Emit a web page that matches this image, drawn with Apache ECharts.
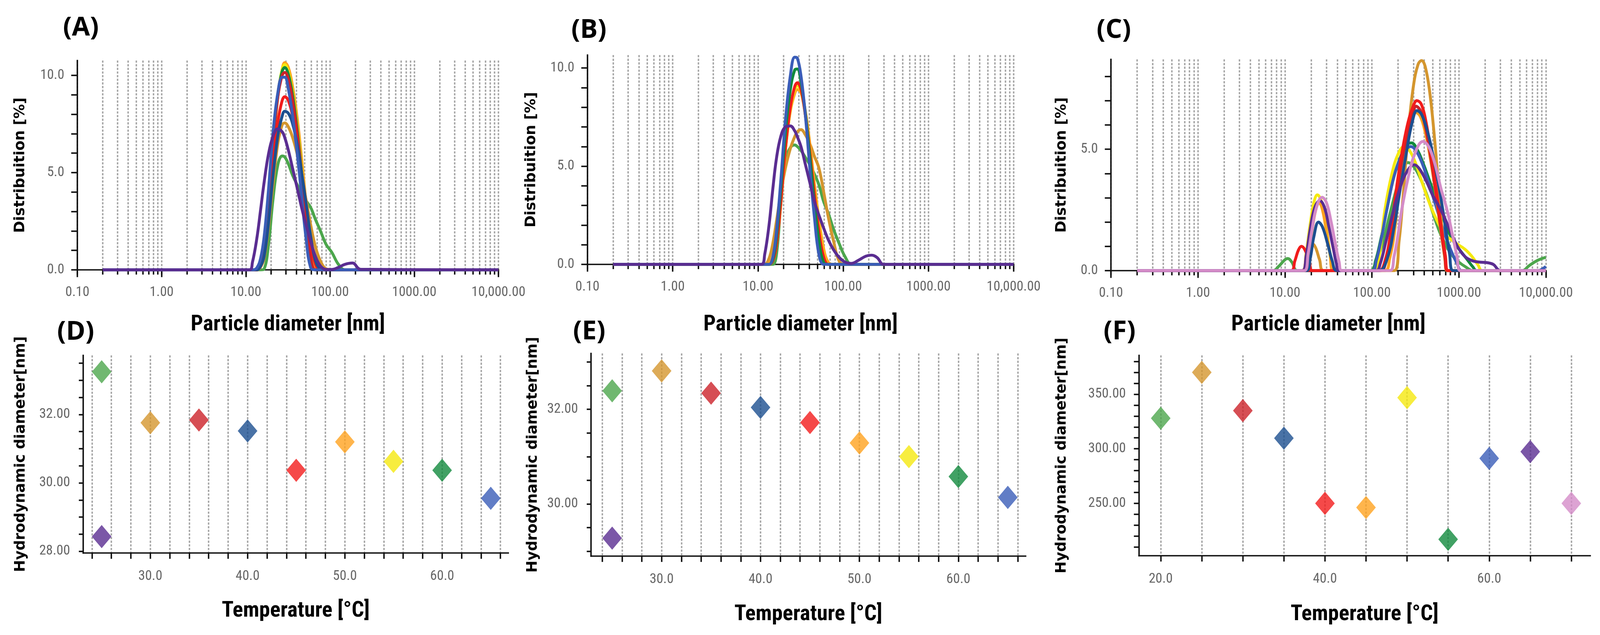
<!DOCTYPE html>
<html>
<head>
<meta charset="utf-8">
<title>DLS size distributions and hydrodynamic diameter</title>
<script src="https://cdn.jsdelivr.net/npm/echarts@6.0.0/dist/echarts.min.js"></script>
<style>
  html, body { margin: 0; padding: 0; background: #ffffff; overflow: hidden; }
  #chart { width: 100vw; height: 100vh; }
</style>
</head>
<body>
<div id="chart"></div>
<script>
// colours, one per temperature run
const GREEN = '#4ca64c', PURPLE = '#5a2d91', GOLD = '#d4962e', DKRED = '#cc2229', NAVY = '#1c4f90';
const RED = '#f21c1c', ORANGE = '#ffa21f', YELLOW = '#f5e90f', DKGREEN = '#118a3d', BLUE = '#3a5db8', PINK = '#d48cc8';

// ---- (A) size distributions [nm] / [%]
const sizesA = [0.2, 11, 12, 13.5, 15, 16.5, 18.5, 21, 24, 27, 29, 32, 36, 41, 46, 52, 59, 67, 77, 90, 105, 125, 150, 185, 230, 10000];
const aOrange  = [0, 0, 0, 0, 0.2, 0.8, 2.8, 6.0, 8.9, 10.3, 10.65, 10.4, 9.4, 7.7, 5.7, 3.4, 1.0, 0.1, 0, 0, 0, 0, 0, 0, 0, 0];
const aYellow  = [0, 0, 0, 0, 0.25, 0.9, 3.0, 6.3, 9.0, 10.3, 10.55, 10.2, 9.1, 7.3, 5.2, 2.9, 0.6, 0, 0, 0, 0, 0, 0, 0, 0, 0];
const aDkGreen = [0, 0, 0, 0, 0.3, 1.0, 3.2, 6.5, 9.0, 10.2, 10.4, 10.05, 8.95, 7.1, 5.0, 2.7, 0.5, 0, 0, 0, 0, 0, 0, 0, 0, 0];
const aDkRed   = [0, 0, 0, 0, 0.3, 1.05, 3.3, 6.5, 8.9, 10.0, 10.15, 9.8, 8.7, 6.9, 4.9, 2.7, 0.6, 0, 0, 0, 0, 0, 0, 0, 0, 0];
const aBlue    = [0, 0, 0, 0.1, 0.6, 1.7, 4.0, 7.0, 9.1, 9.9, 9.9, 9.3, 7.9, 5.9, 3.8, 1.6, 0.1, 0, 0, 0, 0, 0, 0, 0, 0, 0];
const aRed     = [0, 0, 0, 0, 0.2, 0.75, 2.6, 5.4, 7.6, 8.7, 8.9, 8.7, 7.9, 6.6, 5.0, 3.2, 1.4, 0.3, 0, 0, 0, 0, 0, 0, 0, 0];
const aNavy    = [0, 0, 0, 0, 0.2, 0.7, 2.3, 4.8, 6.9, 7.9, 8.15, 8.05, 7.5, 6.4, 5.0, 3.4, 1.7, 0.5, 0.05, 0, 0, 0, 0, 0, 0, 0];
const aGold    = [0, 0, 0, 0, 0.15, 0.6, 2.1, 4.4, 6.5, 7.45, 7.55, 7.35, 6.8, 5.9, 4.8, 3.6, 2.3, 1.2, 0.45, 0.05, 0, 0, 0, 0, 0, 0];
const aPurple  = [0, 0, 0.4, 1.6, 3.1, 4.5, 5.9, 6.85, 7.25, 7.1, 6.8, 6.15, 5.2, 4.15, 3.2, 2.3, 1.45, 0.7, 0.2, 0.02, 0.02, 0.12, 0.28, 0.35, 0.03, 0];
const aGreen   = [0, 0, 0, 0, 0, 0.05, 1.2, 3.6, 5.4, 5.85, 5.8, 5.45, 4.85, 4.35, 3.9, 3.55, 3.2, 2.6, 2.0, 1.3, 0.9, 0.3, 0, 0, 0, 0];

// ---- (B)
const sizesB = [0.2, 11, 12, 13.5, 15, 16.5, 18.5, 21, 24, 27, 29, 32, 36, 41, 46, 52, 59, 67, 77, 90, 105, 125, 150, 185, 215, 250, 300, 10000];
const bBlue    = [0, 0, 0, 0, 0.4, 1.7, 4.2, 7.3, 9.6, 10.55, 10.5, 9.6, 7.6, 4.7, 2.4, 0.5, 0, 0, 0, 0, 0, 0, 0, 0, 0, 0, 0, 0];
const bDkGreen = [0, 0, 0, 0, 0.3, 1.4, 3.8, 6.7, 8.9, 9.9, 9.95, 9.3, 7.7, 5.3, 3.1, 1.2, 0.1, 0, 0, 0, 0, 0, 0, 0, 0, 0, 0, 0];
const bRed     = [0, 0, 0, 0, 0.2, 1.0, 3.1, 5.9, 8.0, 9.05, 9.25, 8.9, 7.6, 5.6, 3.6, 1.7, 0.4, 0, 0, 0, 0, 0, 0, 0, 0, 0, 0, 0];
const bYellow  = [0, 0, 0, 0, 0.2, 1.0, 3.0, 5.8, 7.9, 8.9, 9.1, 8.8, 7.6, 5.7, 3.8, 1.9, 0.5, 0, 0, 0, 0, 0, 0, 0, 0, 0, 0, 0];
const bOrange  = [0, 0, 0, 0.05, 0.4, 1.3, 3.2, 5.8, 7.8, 8.7, 8.9, 8.75, 7.8, 6.0, 4.1, 2.3, 0.8, 0.1, 0, 0, 0, 0, 0, 0, 0, 0, 0, 0];
const bGold    = [0, 0, 0, 0.3, 1.1, 2.2, 3.6, 4.9, 5.9, 6.5, 6.75, 6.86, 6.6, 6.1, 5.5, 4.9, 3.7, 2.4, 1.2, 0.15, 0, 0, 0, 0, 0, 0, 0, 0];
const bPurple  = [0, 0, 0.5, 2.0, 3.9, 5.4, 6.5, 7.0, 7.05, 6.8, 6.5, 6.0, 5.1, 4.1, 3.2, 2.5, 1.85, 1.25, 0.75, 0.35, 0.12, 0.05, 0.2, 0.42, 0.47, 0.35, 0, 0];
const bGreen   = [0, 0, 0, 0, 0, 0.5, 3.0, 5.3, 5.95, 6.08, 6.0, 5.8, 5.45, 5.05, 4.6, 4.05, 3.2, 2.6, 1.8, 1.05, 0.4, 0, 0, 0, 0, 0, 0, 0];

// ---- (C) [size nm, %] pairs, two populations
const cGreen   = [[0.2, 0], [7.3, 0], [8.5, 0.18], [10, 0.45], [10.8, 0.5], [12, 0.35], [13.9, 0], [95, 0], [110, 0.3], [130, 1.0], [160, 2.3], [200, 3.6], [235, 4.3], [260, 4.45], [300, 4.3], [350, 3.9], [420, 3.2], [500, 2.4], [600, 1.6], [720, 1.0], [850, 0.6], [1000, 0.35], [1200, 0.15], [1450, 0], [5300, 0], [6500, 0.22], [8000, 0.42], [10000, 0.55]];
const cGold    = [[0.2, 0], [15.5, 0], [17.5, 0.45], [19.5, 0.95], [20.8, 1.1], [22.5, 0.95], [25, 0.45], [28, 0], [180, 0], [205, 1.2], [230, 3.2], [260, 5.6], [300, 7.6], [340, 8.5], [373, 8.65], [410, 8.4], [460, 7.4], [520, 5.6], [580, 3.6], [640, 1.7], [700, 0.3], [740, 0], [10000, 0]];
const cDkGreen = [[0.2, 0], [98, 0], [110, 0.4], [125, 1.2], [148, 2.5], [180, 3.9], [220, 4.8], [255, 5.2], [285, 5.26], [330, 5.0], [390, 4.4], [460, 3.7], [540, 3.0], [640, 2.3], [760, 1.6], [900, 1.1], [1050, 0.8], [1250, 0.45], [1450, 0.15], [1600, 0], [10000, 0]];
const cYellow  = [[0.2, 0], [16, 0], [17.5, 0.7], [19.5, 1.9], [21.5, 2.8], [23.6, 3.12], [26, 2.9], [29, 2.1], [32, 1.0], [34.5, 0.25], [37, 0], [105, 0], [120, 0.5], [141, 2.5], [170, 4.0], [200, 4.8], [235, 5.11], [270, 4.95], [320, 4.4], [380, 3.6], [440, 2.95], [500, 2.45], [600, 1.85], [700, 1.45], [800, 1.3], [950, 1.1], [1175, 0.88], [1400, 0.6], [1650, 0.25], [1860, 0], [10000, 0]];
const cBlue    = [[0.2, 0], [100, 0], [112, 0.4], [128, 1.3], [150, 2.6], [180, 3.9], [220, 4.75], [255, 5.05], [279, 5.11], [320, 4.95], [380, 4.4], [450, 3.6], [530, 2.8], [620, 2.0], [720, 1.3], [830, 0.75], [950, 0.3], [1080, 0], [8200, 0], [9200, 0.08], [10000, 0.17]];
const cOrange  = [[0.2, 0], [17, 0], [19, 0.8], [21, 1.9], [23, 2.6], [24.7, 2.8], [27, 2.5], [30, 1.6], [33, 0.7], [36, 0], [140, 0], [160, 0.5], [185, 1.8], [203, 3.5], [230, 4.8], [270, 5.9], [320, 6.51], [360, 6.35], [410, 5.7], [470, 4.6], [540, 3.2], [610, 1.8], [690, 0.5], [730, 0], [10000, 0]];
const cDkRed   = [[0.2, 0], [125, 0], [145, 0.4], [170, 1.7], [195, 3.3], [225, 4.7], [265, 5.9], [300, 6.55], [320, 6.77], [360, 6.6], [410, 5.95], [470, 4.75], [540, 3.3], [610, 1.9], [690, 0.6], [740, 0], [10000, 0]];
const cRed     = [[0.2, 0], [11.7, 0], [13, 0.4], [14.3, 0.85], [15.5, 1.0], [17, 0.85], [19, 0.4], [20.8, 0], [120, 0], [140, 0.35], [165, 1.6], [190, 3.3], [220, 4.8], [260, 6.1], [300, 6.8], [329, 7.0], [370, 6.85], [420, 6.1], [480, 4.8], [550, 3.3], [620, 1.9], [700, 0.6], [750, 0], [10000, 0]];
const cNavy    = [[0.2, 0], [17.5, 0], [19.5, 0.5], [21.5, 1.4], [24.3, 2.0], [27, 1.8], [31, 1.1], [35, 0.4], [39.6, 0], [120, 0], [150, 0.5], [180, 1.8], [210, 3.3], [250, 4.9], [290, 6.1], [330, 6.59], [370, 6.45], [430, 5.8], [500, 4.8], [560, 3.9], [620, 3.0], [700, 1.8], [780, 0.7], [860, 0], [10000, 0]];
const cPurple  = [[0.2, 0], [15.9, 0], [17.5, 0.6], [19.5, 1.7], [22, 2.6], [25.2, 2.88], [28.5, 2.6], [32, 1.8], [36, 0.9], [39, 0.3], [42, 0], [112, 0], [125, 0.3], [145, 1.2], [175, 2.4], [210, 3.4], [250, 4.05], [307, 4.36], [350, 4.2], [420, 3.7], [500, 3.1], [600, 2.6], [700, 2.1], [850, 1.4], [1000, 0.9], [1200, 0.55], [1450, 0.4], [1750, 0.35], [2100, 0.33], [2500, 0.25], [2800, 0.05], [3000, 0], [10000, 0]];
const cPink    = [[0.2, 0], [16.7, 0], [18.5, 0.7], [20.5, 1.7], [23, 2.6], [26.7, 3.02], [30, 2.8], [34, 2.0], [38, 1.1], [42, 0.35], [45, 0], [160, 0], [180, 0.6], [200, 1.5], [220, 2.5], [260, 3.8], [310, 4.8], [386, 5.32], [450, 5.1], [530, 4.4], [620, 3.4], [731, 2.5], [840, 1.5], [950, 0.6], [1045, 0], [10000, 0]];

// ---- (D)(E)(F) hydrodynamic diameter vs temperature
const tempsDE = [25, 25, 30, 35, 40, 45, 50, 55, 60, 65];
const colorsDE = [GREEN, PURPLE, GOLD, DKRED, NAVY, RED, ORANGE, YELLOW, DKGREEN, BLUE];
const diamD = [33.25, 28.43, 31.76, 31.84, 31.52, 30.37, 31.2, 30.63, 30.37, 29.55];
const diamE = [32.39, 29.28, 32.81, 32.34, 32.04, 31.72, 31.29, 31.0, 30.58, 30.14];
const tempsF = [20, 25, 30, 35, 40, 45, 50, 55, 60, 65, 70];
const colorsF = [GREEN, GOLD, DKRED, NAVY, RED, ORANGE, YELLOW, DKGREEN, BLUE, PURPLE, PINK];
const diamF = [328, 370, 335, 309.7, 250, 246.2, 346.9, 217, 291.2, 297.4, 250];

// ---- tick positions and labels
const decades = [0.1, 1, 10, 100, 1000, 10000];
const decadeLabels = ['0.10', '1.00', '10.00', '100.00', '1000.00', '10,000.00'];
const logTicks = [0.1];
[0.1, 1, 10, 100, 1000].forEach(d => {
  [2, 3, 4, 5, 6, 7, 8, 9, 10].forEach(m => logTicks.push(+(d * m).toPrecision(3)));
});
const distTicks = [0, 1, 2, 3, 4, 5, 6, 7, 8, 9, 10];
const distTicksC = [0, 1, 2, 3, 4, 5, 6, 7, 8];
const tempTicksDE = [24, 26, 28, 30, 32, 34, 36, 38, 40, 42, 44, 46, 48, 50, 52, 54, 56, 58, 60, 62, 64, 66];
const tempLabelsDE = [30, 40, 50, 60];
const tempTicksF = [20, 25, 30, 35, 40, 45, 50, 55, 60, 65, 70];
const tempLabelsF = [20, 40, 60];
const diamTicksD = [28, 28.5, 29, 29.5, 30, 30.5, 31, 31.5, 32, 32.5, 33, 33.5];
const diamTicksE = [29, 29.5, 30, 30.5, 31, 31.5, 32, 32.5, 33];
const diamTicksF = [210, 220, 230, 240, 250, 260, 270, 280, 290, 300, 310, 320, 330, 340, 350, 360, 370, 380];

// layout is laid out for a 4404 x 1626 page and follows the real window size
const dom = document.getElementById('chart');
const kx = (dom.clientWidth || 4404) / 4404;
const ky = (dom.clientHeight || 1626) / 1626;
const k = Math.min(kx, ky);
const X = v => v * kx, Y = v => v * ky, S = v => v * k;

const NARROW = "'Liberation Sans Narrow', 'Roboto Condensed', 'Liberation Sans', sans-serif";
const WIDE = "'DejaVu Sans', Verdana, sans-serif";
const PANEL = "'Open Sans', 'Noto Sans', sans-serif";

const axisLine = { show: true, onZero: false, lineStyle: { color: '#111', width: S(4), cap: 'square' } };
const dashed = { show: true, lineStyle: { color: '#a6a6a6', width: S(4), type: [S(6), S(4)] } };
const xName = { fontFamily: NARROW, fontWeight: 'bold', fontSize: S(60), color: '#000' };
const yName = { fontFamily: WIDE, fontWeight: 'bold', fontSize: S(40), color: '#000' };

function ticks(values, length) {
  return { show: true, length: S(length), customValues: values, lineStyle: { color: '#111', width: S(4) } };
}
function labels(values, fmt, margin) {
  return { show: true, customValues: values, formatter: fmt, margin: S(margin), color: '#666', fontSize: S(38), fontFamily: NARROW };
}

function logAxes(gi, nameGap) {
  return [
    { type: 'log', logBase: 10, gridIndex: gi, min: 0.1, max: 10000, position: 'bottom',
      axisLine: axisLine, axisTick: ticks(logTicks, 13), axisLabel: { show: false }, splitLine: dashed },
    { type: 'log', logBase: 10, gridIndex: gi, min: 0.1, max: 10000, position: 'bottom',
      axisLine: { show: false }, axisTick: ticks(decades, 20), splitLine: { show: false },
      axisLabel: labels(decades, v => decadeLabels[Math.round(Math.log10(v)) + 1], 44),
      name: 'Particle diameter [nm]', nameLocation: 'middle', nameGap: Y(nameGap), nameTextStyle: xName }
  ];
}
function tempAxis(gi, min, max, tickVals, labelVals, nameGap) {
  return { type: 'value', gridIndex: gi, min: min, max: max, position: 'bottom',
    axisLine: axisLine, axisTick: ticks(tickVals, 16), splitLine: dashed,
    axisLabel: labels(labelVals, v => v.toFixed(1), 46),
    name: 'Temperature [°C]', nameLocation: 'middle', nameGap: Y(nameGap), nameTextStyle: xName };
}
function yAxis(gi, min, max, tickVals, labelVals, digits, name, nameGap, tickLen) {
  return { type: 'value', gridIndex: gi, min: min, max: max, position: 'left',
    axisLine: axisLine, axisTick: ticks(tickVals, tickLen), splitLine: { show: false },
    axisLabel: labels(labelVals, v => v.toFixed(digits), 36),
    name: name, nameLocation: 'middle', nameRotate: 90, nameGap: X(nameGap), nameTextStyle: yName };
}

function curve(color, xs, ys, xi, yi) {
  return { type: 'line', xAxisIndex: xi, yAxisIndex: yi, data: xs.map((x, i) => [x, ys[i]]),
    smooth: 0.4, symbol: 'none', lineStyle: { color: color, width: S(8) }, itemStyle: { color: color }, z: 3 };
}
function curvePairs(color, pairs, xi, yi) {
  return { type: 'line', xAxisIndex: xi, yAxisIndex: yi, data: pairs,
    smooth: 0.4, symbol: 'none', lineStyle: { color: color, width: S(8) }, itemStyle: { color: color }, z: 3 };
}
function diamonds(temps, diams, colors, xi, yi) {
  return { type: 'scatter', xAxisIndex: xi, yAxisIndex: yi, symbol: 'diamond', symbolSize: [S(54), S(64)], z: 4,
    data: temps.map((t, i) => ({ value: [t, diams[i]], itemStyle: { color: colors[i] } })) };
}
function grid(left, top, width, height) {
  return { left: X(left), top: Y(top), width: X(width), height: Y(height) };
}
function panelTitle(text, cx, cy) {
  return { text: text, left: X(cx) - S(50), top: Y(cy) - S(42),
    textStyle: { fontFamily: PANEL, fontWeight: 'bold', fontSize: S(72), color: '#000' } };
}

const chart = echarts.init(dom, null, { renderer: 'canvas' });

chart.setOption({
  animation: false,
  backgroundColor: '#ffffff',
  title: [
    panelTitle('(A)', 218, 72), panelTitle('(B)', 1617, 78), panelTitle('(C)', 3063, 78),
    panelTitle('(D)', 202, 851), panelTitle('(E)', 1622, 850), panelTitle('(F)', 3082, 850)
  ],
  grid: [
    grid(213, 155, 1159, 536),
    grid(1617, 141, 1173, 536),
    grid(3058, 152, 1197, 541),
    grid(229, 910, 1170, 506),
    grid(1627, 905, 1196, 519),
    grid(3135, 910, 1242, 513)
  ],
  xAxis: [
    ...logAxes(0, 113), ...logAxes(1, 127), ...logAxes(2, 111),
    tempAxis(3, 23.1, 66.8, tempTicksDE, tempLabelsDE, 121),
    tempAxis(4, 22.87, 66.8, tempTicksDE, tempLabelsDE, 122),
    tempAxis(5, 17.35, 72.3, tempTicksF, tempLabelsF, 123)
  ],
  yAxis: [
    yAxis(0, 0, 10.76, distTicks, [0, 5, 10], 1, 'Distribuition [%]', 137, 17),
    yAxis(1, 0, 10.66, distTicks, [0, 5, 10], 1, 'Distribuition [%]', 135, 17),
    yAxis(2, 0, 8.7, distTicksC, [0, 5], 1, 'Distribuition [%]', 115, 17),
    yAxis(3, 27.95, 33.73, diamTicksD, [28, 30, 32], 2, 'Hydrodynamic diameter[nm]', 152, 12),
    yAxis(4, 28.9, 33.18, diamTicksE, [30, 32], 2, 'Hydrodynamic diameter[nm]', 140, 12),
    yAxis(5, 202, 385.6, diamTicksF, [250, 300, 350], 2, 'Hydrodynamic diameter[nm]', 192, 14)
  ],
  series: [
    curve(GREEN, sizesA, aGreen, 0, 0),
    curve(GOLD, sizesA, aGold, 0, 0),
    curve(ORANGE, sizesA, aOrange, 0, 0),
    curve(YELLOW, sizesA, aYellow, 0, 0),
    curve(DKGREEN, sizesA, aDkGreen, 0, 0),
    curve(DKRED, sizesA, aDkRed, 0, 0),
    curve(RED, sizesA, aRed, 0, 0),
    curve(NAVY, sizesA, aNavy, 0, 0),
    curve(BLUE, sizesA, aBlue, 0, 0),
    curve(PURPLE, sizesA, aPurple, 0, 0),

    curve(GREEN, sizesB, bGreen, 2, 1),
    curve(GOLD, sizesB, bGold, 2, 1),
    curve(ORANGE, sizesB, bOrange, 2, 1),
    curve(YELLOW, sizesB, bYellow, 2, 1),
    curve(RED, sizesB, bRed, 2, 1),
    curve(DKGREEN, sizesB, bDkGreen, 2, 1),
    curve(BLUE, sizesB, bBlue, 2, 1),
    curve(PURPLE, sizesB, bPurple, 2, 1),

    curvePairs(GREEN, cGreen, 4, 2),
    curvePairs(DKGREEN, cDkGreen, 4, 2),
    curvePairs(YELLOW, cYellow, 4, 2),
    curvePairs(BLUE, cBlue, 4, 2),
    curvePairs(ORANGE, cOrange, 4, 2),
    curvePairs(GOLD, cGold, 4, 2),
    curvePairs(DKRED, cDkRed, 4, 2),
    curvePairs(RED, cRed, 4, 2),
    curvePairs(NAVY, cNavy, 4, 2),
    curvePairs(PURPLE, cPurple, 4, 2),
    curvePairs(PINK, cPink, 4, 2),

    diamonds(tempsDE, diamD, colorsDE, 6, 3),
    diamonds(tempsDE, diamE, colorsDE, 7, 4),
    diamonds(tempsF, diamF, colorsF, 8, 5)
  ]
});
</script>
</body>
</html>
